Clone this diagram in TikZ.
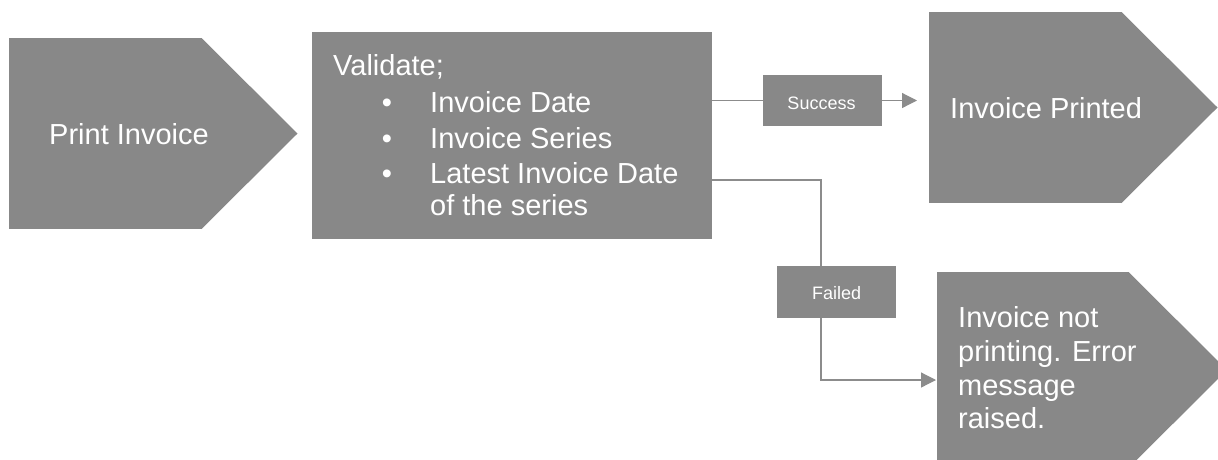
\documentclass[tikz,border=0pt]{standalone}
\usepackage{fontspec}
\setmainfont{Liberation Sans}
\usetikzlibrary{arrows.meta,backgrounds,calc}
\definecolor{shapegray}{HTML}{888888}
\definecolor{linegray}{HTML}{8C8C8C}
\begin{document}
\begin{tikzpicture}[x=1pt,y=-1pt,
  body/.style={fill=shapegray, inner sep=0pt, outer sep=0pt, draw=none},
  lbl/.style={text=white, font=\fontsize{29}{34.5}\selectfont, inner sep=0pt, anchor=base west},
  bul/.style={text=white, font=\fontsize{29}{34.5}\selectfont, inner sep=0pt, anchor=base},
  small/.style={text=white, font=\fontsize{18}{21}\selectfont, inner sep=0pt, anchor=base},
  conn/.style={draw=linegray, line width=1.2pt},
  tip/.style={-{Triangle[length=15pt,width=15pt]}}
]
\useasboundingbox (0,0) rectangle (1218,459);

% bodies
\node[body, minimum width=193pt, minimum height=191pt] (pi) at (105.5,133.5) {};
\node[body, minimum width=400pt, minimum height=207pt] (val) at (512,135.5) {};
\node[body, minimum width=119pt, minimum height=51pt] (succ) at (822.5,100.5) {};
\node[body, minimum width=193pt, minimum height=191pt] (ip) at (1025.5,107.5) {};
\node[body, minimum width=119pt, minimum height=52pt] (fail) at (836.5,292) {};
\node[body, minimum width=192pt, minimum height=196pt] (inp) at (1033,370) {};

% connectors and pointer tips behind
\coordinate (b1) at (821,180);
\coordinate (b2) at (821,380);
\begin{scope}[on background layer]
  \fill[shapegray] ([xshift=-0.5pt]pi.north east) -- ([xshift=95.5pt]pi.east) -- ([xshift=-0.5pt]pi.south east) -- cycle;
  \fill[shapegray] ([xshift=-0.5pt]ip.north east) -- ([xshift=95.5pt]ip.east) -- ([xshift=-0.5pt]ip.south east) -- cycle;
  \fill[shapegray] ([xshift=-0.5pt]inp.north east) -- ([xshift=98pt]inp.east) -- ([xshift=-0.5pt]inp.south east) -- cycle;
  \draw[conn] (val.east |- succ.west) -- (succ.west);
  \draw[conn,tip] (succ.east) -- ([xshift=-12pt]succ.east -| ip.west);
  \draw[conn,tip] (val.east |- b1) -- (b1) -- (b2) -- ([xshift=-1pt]b2 -| inp.west);
\end{scope}

% texts
\node[lbl] (tpi) at (49,144) {Print Invoice};
\node[lbl] (tval) at (333,75) {Validate;};
\node[bul] (bu1) at (387,112) {•};
\node[lbl] (tv1) at (430,112) {Invoice Date};
\node[bul] (bu2) at (387,148) {•};
\node[lbl] (tv2) at (430,148) {Invoice Series};
\node[bul] (bu3) at (387,183) {•};
\node[lbl] (tv3) at (430,183) {Latest Invoice Date};
\node[lbl] (tv4) at (430,215) {of the series};
\node[small] (tsucc) at (821.5,109) {Success};
\node[small] (tfail) at (836.7,299) {Failed};
\node[lbl] (tip1) at (950,118) {Invoice Printed};
\node[lbl] (tin1) at (958,327) {Invoice not};
\node[lbl] (tin2) at (958,361) {printing. Error};
\node[lbl] (tin3) at (958,395) {message};
\node[lbl] (tin4) at (958,428) {raised.};
\end{tikzpicture}
\end{document}
